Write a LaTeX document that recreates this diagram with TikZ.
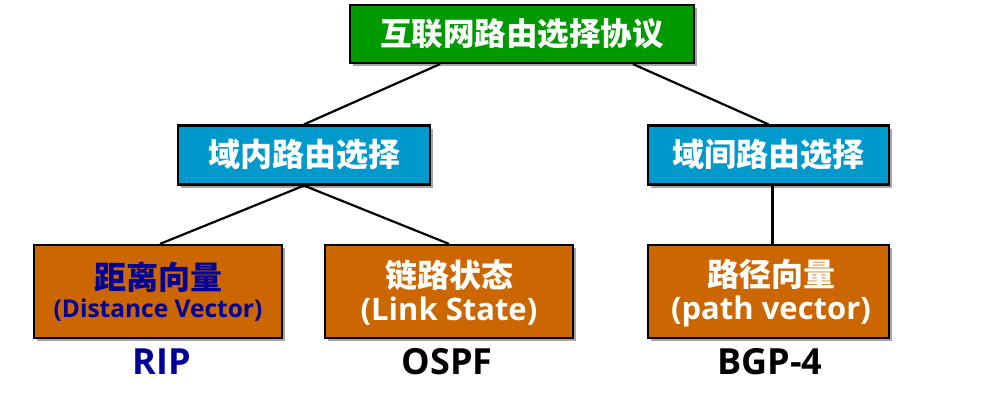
\documentclass[tikz,border=0pt]{standalone}
\usepackage{fontspec}
\setmainfont{Noto Sans CJK SC}
\newfontfamily\latinfont{Open Sans}
\usetikzlibrary{shadows}
\definecolor{boxgreen}{RGB}{0,153,0}
\definecolor{boxblue}{RGB}{0,153,204}
\definecolor{boxorange}{RGB}{204,102,0}
\definecolor{darkblue}{RGB}{0,0,153}
\tikzset{
  box/.style={draw=black, line width=2.2pt, inner sep=0pt, align=center,
    font=\bfseries, drop shadow={shadow xshift=3pt, shadow yshift=-3pt, opacity=0.35, fill=black}},
  topbox/.style={box, fill=boxgreen, text=white, minimum width=344pt, minimum height=58pt, font=\fontsize{31.5}{34}\bfseries\selectfont},
  midbox/.style={box, fill=boxblue, text=white, minimum height=59pt, font=\fontsize{32}{34}\bfseries\selectfont},
  leafbox/.style={box, fill=boxorange, minimum height=93pt},
  cjkline/.style={inner sep=0pt, font=\fontsize{32}{34}\bfseries\selectfont},
  latline/.style={inner sep=0pt, font=\latinfont\fontsize{31}{34}\bfseries\selectfont},
  link/.style={line width=2.2pt, draw=black},
  proto/.style={font=\latinfont\fontsize{36}{38}\bfseries\selectfont, inner sep=0pt}
}
\begin{document}
\begin{tikzpicture}[x=1pt,y=-1pt]
\useasboundingbox (0,0) rectangle (1003,405);
\node[topbox] (top) at (522,34) {互联网路由选择协议};
\node[midbox, minimum width=252pt] (intra) at (304,155) {域内路由选择};
\node[midbox, minimum width=241pt] (inter) at (768.5,155) {域间路由选择};
\node[leafbox, minimum width=248pt] (dv) at (158,291.5) {};
\node[leafbox, minimum width=248pt] (ls) at (449,291.5) {};
\node[leafbox, minimum width=241pt] (pv) at (768.5,291.5) {};
\node[cjkline, text=darkblue] (dvcn) at (158,277) {距离向量};
\node[latline, text=darkblue, font=\latinfont\fontsize{24.5}{30}\bfseries\selectfont] (dven) at (158,310) {(Distance Vector)};
\node[cjkline, text=white] (lscn) at (449,275) {链路状态};
\node[latline, text=white] (lsen) at (449,311) {(Link State)};
\node[cjkline, text=white] (pvcn) at (771,274) {路径向量};
\node[latline, text=white] (pven) at (771,311) {(path vector)};
\node[proto, text=darkblue] (rip) at (162,362) {RIP};
\node[proto, text=black] (ospf) at (447,362) {OSPF};
\node[proto, text=black] (bgp) at (770,362) {BGP-4};
\draw[link] ([xshift=-82pt]top.south) -- (intra.north);
\draw[link] ([xshift=111pt]top.south) -- (inter.north);
\draw[link] (intra.south) -- ([xshift=2pt]dv.north);
\draw[link] (intra.south) -- (ls.north);
\draw[link] ([xshift=4pt]inter.south) -- ([xshift=4pt]pv.north);
\end{tikzpicture}
\end{document}
